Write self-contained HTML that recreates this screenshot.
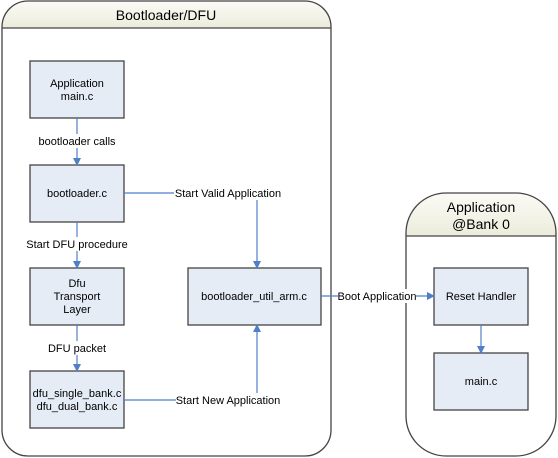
<!DOCTYPE html><html><head><style>body{margin:0;background:#fff}svg{display:block}text{font-family:"Liberation Sans",sans-serif;font-size:11px;fill:#000}</style></head><body>
<svg width="558" height="458" viewBox="0 0 558 458">
<defs><linearGradient id="g" x1="0" y1="0" x2="0" y2="1"><stop offset="0" stop-color="#fbfbf6"/><stop offset="1" stop-color="#ececdc"/></linearGradient>
<marker id="a" markerWidth="8" markerHeight="8" refX="7" refY="4" orient="auto" markerUnits="userSpaceOnUse"><path d="M0,0L8,4L0,8z" fill="#4f7fc7"/></marker></defs>
<path d="M2,28 V27 Q2,1 28,1 H305 Q331,1 331,27 V28 Z" fill="url(#g)"/>
<rect x="2" y="1" width="329" height="455" rx="26" fill="none" stroke="#444" stroke-width="1.3"/>
<line x1="2" y1="28" x2="331" y2="28" stroke="#444" stroke-width="1.3"/>
<text x="166" y="20" text-anchor="middle" font-size="14" style="font-size:14px">Bootloader/DFU</text>
<path d="M406,236 V236 Q406,193 448,193 H514 Q556,193 556,236 Z" fill="url(#g)"/>
<rect x="406" y="193" width="150" height="263" rx="40" fill="none" stroke="#444" stroke-width="1.3"/>
<line x1="406" y1="236" x2="556" y2="236" stroke="#444" stroke-width="1.3"/>
<text x="481" y="212" text-anchor="middle" style="font-size:14px">Application</text>
<text x="481" y="229" text-anchor="middle" style="font-size:14px">@Bank 0</text>
<g fill="#e6ecf6" stroke="#444" stroke-width="1.3">
<rect x="30" y="61" width="94" height="57"/><rect x="30" y="165" width="94" height="57"/><rect x="30" y="268" width="94" height="57"/><rect x="30" y="371" width="94" height="57"/><rect x="188" y="268" width="133" height="57"/><rect x="434" y="268" width="94" height="57"/><rect x="434" y="353" width="94" height="57"/></g>
<g stroke="#4f7fc7" stroke-width="1.2" fill="none">
<line x1="77" y1="118" x2="77" y2="165" marker-end="url(#a)"/>
<line x1="77" y1="222" x2="77" y2="268" marker-end="url(#a)"/>
<line x1="77" y1="325" x2="77" y2="371" marker-end="url(#a)"/>
<path d="M124,193 H257 V268" marker-end="url(#a)"/>
<path d="M124,400 H257 V325" marker-end="url(#a)"/>
<line x1="321" y1="296" x2="434" y2="296" marker-end="url(#a)"/>
<line x1="481" y1="325" x2="481" y2="353" marker-end="url(#a)"/></g>
<g fill="#fff"><rect x="38" y="134" width="80" height="14"/><rect x="26" y="237" width="102" height="14"/><rect x="46" y="341" width="62" height="14"/><rect x="174" y="186" width="108" height="14"/><rect x="176" y="393" width="104" height="14"/><rect x="338" y="289" width="78" height="14"/></g>
<g text-anchor="middle">
<text x="77" y="87">Application</text><text x="77" y="100">main.c</text>
<text x="77" y="145">bootloader calls</text>
<text x="77" y="197">bootloader.c</text>
<text x="77" y="248">Start DFU procedure</text>
<text x="77" y="287">Dfu</text><text x="77" y="300">Transport</text><text x="77" y="313">Layer</text>
<text x="77" y="352">DFU packet</text>
<text x="77" y="397">dfu_single_bank.c</text><text x="77" y="410">dfu_dual_bank.c</text>
<text x="228" y="197">Start Valid Application</text>
<text x="228" y="404">Start New Application</text>
<text x="254" y="300">bootloader_util_arm.c</text>
<text x="377" y="300">Boot Application</text>
<text x="481" y="300">Reset Handler</text>
<text x="481" y="385">main.c</text></g>
</svg></body></html>
